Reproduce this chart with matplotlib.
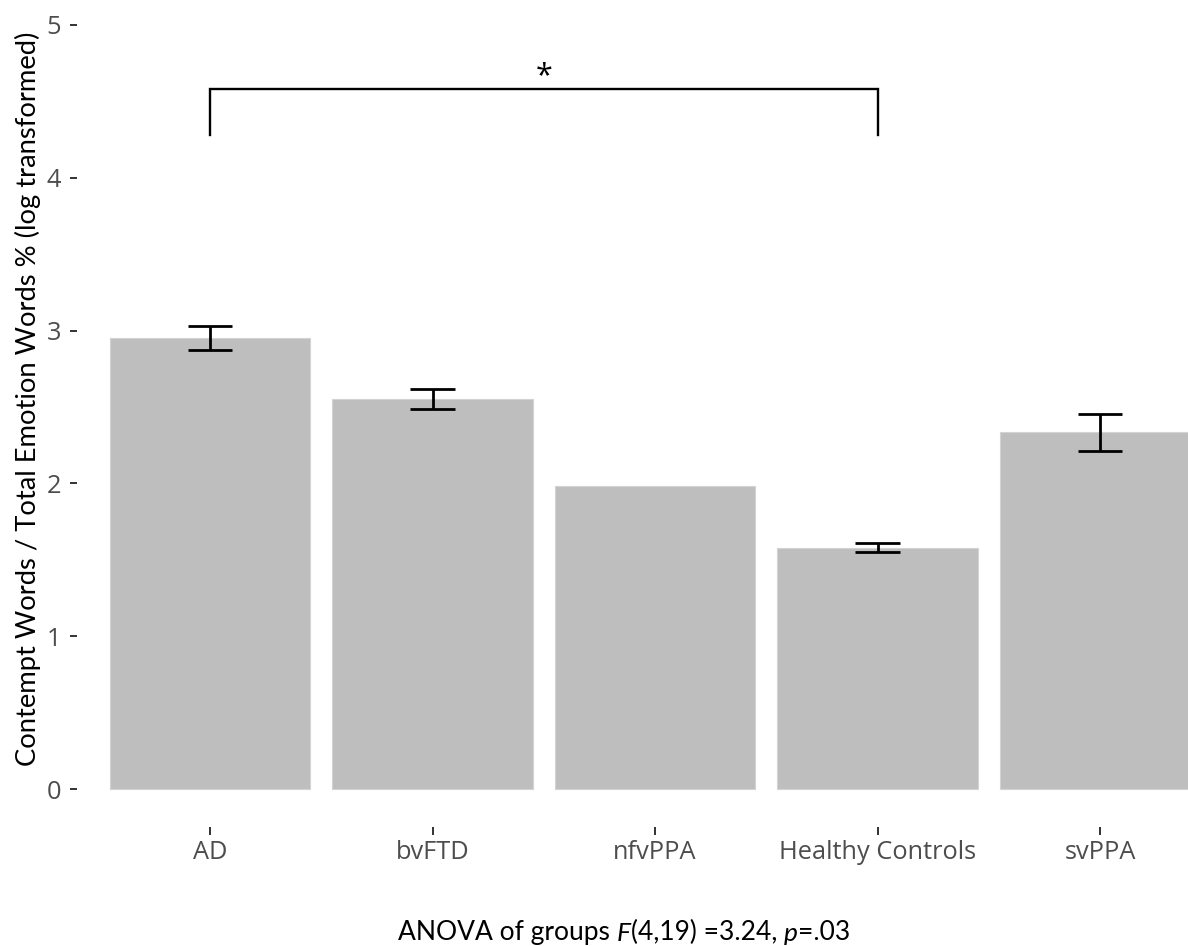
import matplotlib
matplotlib.use("Agg")
import matplotlib.pyplot as plt

groups = ["AD", "bvFTD", "nfvPPA", "Healthy Controls", "svPPA"]
means = [2.95, 2.55, 1.98, 1.58, 2.335]
errs = [0.08, 0.065, 0.0, 0.03, 0.12]
has_err = [True, True, False, True, True]
yticks = [0, 1, 2, 3, 4, 5]
sig_pair = (0, 3)
sig_y = 4.58
sig_drop = 0.30
sig_label = "*"
ylabel = "Contempt Words / Total Emotion Words % (log transformed)"

W, H = 1188, 946
fig = plt.figure(figsize=(W / 100, H / 100), dpi=100)
# panel spans beyond the figure edges (reference is cropped)
left_px, right_px = 76.5, 1233.5
bot_px, top_px = 827.2, -13.2
ax = fig.add_axes([left_px / W, (H - bot_px) / H,
                   (right_px - left_px) / W, (bot_px - top_px) / H])

xs = list(range(1, len(groups) + 1))
ax.bar(xs, means, width=0.9, color="#BEBEBE", edgecolor="#D3D3D3",
       linewidth=0.8, zorder=1)
for x, m, e, h in zip(xs, means, errs, has_err):
    if not h:
        continue
    ax.vlines(x, m - e, m + e, color="black", lw=2.0, zorder=3)
    ax.hlines([m - e, m + e], x - 0.1, x + 0.1, color="black", lw=2.0, zorder=3)

# significance bracket
xa, xb = xs[sig_pair[0]], xs[sig_pair[1]]
ax.plot([xa, xa, xb, xb], [sig_y - sig_drop, sig_y, sig_y, sig_y - sig_drop],
        color="black", lw=1.7, solid_joinstyle="miter", zorder=3)
ax.text((xa + xb) / 2, sig_y + 0.03, sig_label, ha="center", va="baseline",
        fontsize=22, family="Open Sans", color="black")

ax.set_xlim(0.4, len(groups) + 0.6)
ax.set_ylim(-0.25, 5.25)
ax.set_xticks(xs)
ax.set_xticklabels(groups)
ax.set_yticks(yticks)
ax.set_yticklabels([str(t) for t in yticks])
for s in ax.spines.values():
    s.set_visible(False)
ax.tick_params(axis="both", direction="out", color="#333333", width=1.4,
               labelcolor="#4D4D4D", labelsize=18.3)
ax.tick_params(axis="y", length=5, pad=6)
ax.tick_params(axis="x", length=6, pad=3)
for lab in ax.get_xticklabels() + ax.get_yticklabels():
    lab.set_family("Open Sans")

fig.text(28 / W, (H - 399) / H, ylabel, rotation=90, ha="center", va="center",
         fontsize=19.7, family="Lato", color="black")

# x caption with italic parts
pieces = [("ANOVA of groups ", "normal"), ("F", "italic"), ("(4,19) =3.24, ", "normal"),
          ("p", "italic"), ("=.03", "normal")]
prev = fig.text(398 / W, (H - 940) / H, pieces[0][0], ha="left", va="baseline",
                fontsize=19, family="Lato", color="black")
for txt, st in pieces[1:]:
    prev = ax.annotate(txt, xy=(1, 0), xycoords=prev, ha="left", va="bottom",
                       fontsize=19, family="Lato", style=st, color="black",
                       annotation_clip=False)

fig.savefig("out.png", dpi=100)
